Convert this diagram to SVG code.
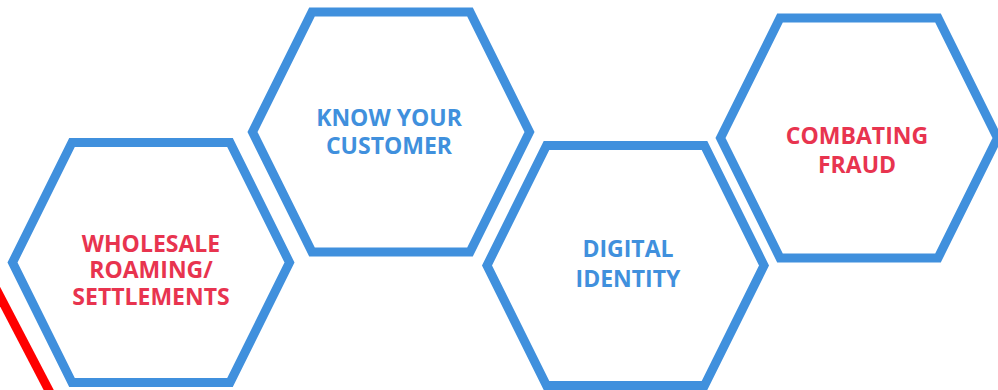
<svg xmlns="http://www.w3.org/2000/svg" xmlns:xlink="http://www.w3.org/1999/xlink" width="998" height="390" viewBox="0 0 998 390">
  <style>
    .hex { fill: none; stroke: #4090DD; stroke-width: 9; stroke-linejoin: miter; }
    .t { font-family: "Open Sans", "Liberation Sans", sans-serif; font-weight: bold; font-size: 23px; text-anchor: middle; }
    .red { fill: #E8344F; }
    .blue { fill: #4090DD; }
  </style>
  <defs>
    <polygon id="hexshape" class="hex" points="-138.5,0 -79,-120 79,-120 138.5,0 79,120 -79,120"/>
  </defs>
  <rect width="998" height="390" fill="#FFFFFF"/>
  <g id="accent">
    <line x1="-20" y1="258" x2="56" y2="404" stroke="#FF0000" stroke-width="9"/>
  </g>
  <g id="connectors"></g>
  <g id="node-wholesale">
    <use xlink:href="#hexshape" href="#hexshape" transform="translate(151,262.5)"/>
    <text class="t red" x="151" y="251.5">WHOLESALE</text>
    <text class="t red" x="151" y="278">ROAMING/</text>
    <text class="t red" x="151" y="304.5">SETTLEMENTS</text>
  </g>
  <g id="node-kyc">
    <use xlink:href="#hexshape" href="#hexshape" transform="translate(391,132)"/>
    <text class="t blue" x="389" y="126">KNOW YOUR</text>
    <text class="t blue" x="389" y="154">CUSTOMER</text>
  </g>
  <g id="node-digital-identity">
    <use xlink:href="#hexshape" href="#hexshape" transform="translate(625.5,265.5)"/>
    <text class="t blue" x="628" y="256.5">DIGITAL</text>
    <text class="t blue" x="628" y="286.5">IDENTITY</text>
  </g>
  <g id="node-fraud">
    <use xlink:href="#hexshape" href="#hexshape" transform="translate(859,138)"/>
    <text class="t red" x="857" y="144">COMBATING</text>
    <text class="t red" x="857" y="173">FRAUD</text>
  </g>
</svg>
